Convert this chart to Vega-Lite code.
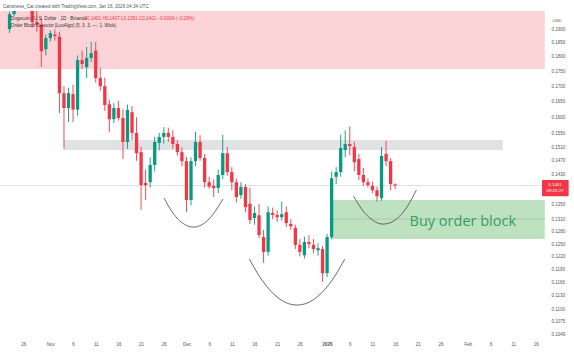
{
  "$schema": "https://vega.github.io/schema/vega-lite/v6.json",
  "width": 547,
  "height": 327,
  "autosize": {"type": "none"},
  "padding": {"left": 0, "top": 11, "right": 27, "bottom": 18},
  "background": "white",
  "config": {"view": {"stroke": null}, "font": "Liberation Sans", "axis": {"grid": false, "ticks": false, "domain": false, "title": null, "labelFontSize": 4.5, "labelColor": "#555555", "labelFont": "Liberation Sans", "labelFlush": false, "labelOverlap": false}},
  "title": {"text": "Cartonese_Cat created with TradingView.com, Jan 16, 2026 04:34 UTC", "anchor": "start", "frame": "group", "fontSize": 4.6, "fontWeight": "normal", "color": "#555555", "offset": 2, "dx": 3, "font": "Liberation Sans"},
  "datasets": {
    "candles": [
      {"d": "2025-10-23", "o": 0.1900, "h": 0.1966, "l": 0.1885, "c": 0.1956},
      {"d": "2025-10-24", "o": 0.1956, "h": 0.2010, "l": 0.1948, "c": 0.1990},
      {"d": "2025-10-25", "o": 0.1990, "h": 0.2012, "l": 0.1972, "c": 0.1998},
      {"d": "2025-10-26", "o": 0.1998, "h": 0.2065, "l": 0.1985, "c": 0.2045},
      {"d": "2025-10-27", "o": 0.2045, "h": 0.2080, "l": 0.1990, "c": 0.2010},
      {"d": "2025-10-28", "o": 0.2010, "h": 0.2040, "l": 0.1905, "c": 0.1926},
      {"d": "2025-10-29", "o": 0.1926, "h": 0.1968, "l": 0.1890, "c": 0.1915},
      {"d": "2025-10-30", "o": 0.1915, "h": 0.1940, "l": 0.1765, "c": 0.1820},
      {"d": "2025-10-31", "o": 0.1827, "h": 0.1880, "l": 0.1805, "c": 0.1867},
      {"d": "2025-11-01", "o": 0.1867, "h": 0.1895, "l": 0.1855, "c": 0.1885},
      {"d": "2025-11-02", "o": 0.1880, "h": 0.1898, "l": 0.1858, "c": 0.1874},
      {"d": "2025-11-03", "o": 0.1872, "h": 0.1890, "l": 0.1613, "c": 0.1677},
      {"d": "2025-11-04", "o": 0.1677, "h": 0.1700, "l": 0.1505, "c": 0.1629},
      {"d": "2025-11-05", "o": 0.1629, "h": 0.1695, "l": 0.1585, "c": 0.1677},
      {"d": "2025-11-06", "o": 0.1674, "h": 0.1705, "l": 0.1585, "c": 0.1624},
      {"d": "2025-11-07", "o": 0.1624, "h": 0.1805, "l": 0.1605, "c": 0.1789},
      {"d": "2025-11-08", "o": 0.1789, "h": 0.1822, "l": 0.1758, "c": 0.1775},
      {"d": "2025-11-09", "o": 0.1764, "h": 0.1835, "l": 0.1727, "c": 0.1796},
      {"d": "2025-11-10", "o": 0.1796, "h": 0.1853, "l": 0.1782, "c": 0.1813},
      {"d": "2025-11-11", "o": 0.1822, "h": 0.1853, "l": 0.1712, "c": 0.1727},
      {"d": "2025-11-12", "o": 0.1727, "h": 0.1762, "l": 0.1685, "c": 0.1700},
      {"d": "2025-11-13", "o": 0.1700, "h": 0.1728, "l": 0.1620, "c": 0.1639},
      {"d": "2025-11-14", "o": 0.1641, "h": 0.1655, "l": 0.1555, "c": 0.1594},
      {"d": "2025-11-15", "o": 0.1594, "h": 0.1645, "l": 0.1582, "c": 0.1629},
      {"d": "2025-11-16", "o": 0.1629, "h": 0.1652, "l": 0.1590, "c": 0.1598},
      {"d": "2025-11-17", "o": 0.1598, "h": 0.1625, "l": 0.1475, "c": 0.1525},
      {"d": "2025-11-18", "o": 0.1525, "h": 0.1640, "l": 0.1505, "c": 0.1623},
      {"d": "2025-11-19", "o": 0.1616, "h": 0.1635, "l": 0.1530, "c": 0.1552},
      {"d": "2025-11-20", "o": 0.1552, "h": 0.1600, "l": 0.1470, "c": 0.1492},
      {"d": "2025-11-21", "o": 0.1495, "h": 0.1510, "l": 0.1336, "c": 0.1402},
      {"d": "2025-11-22", "o": 0.1408, "h": 0.1445, "l": 0.1362, "c": 0.1402},
      {"d": "2025-11-23", "o": 0.1410, "h": 0.1480, "l": 0.1395, "c": 0.1458},
      {"d": "2025-11-24", "o": 0.1458, "h": 0.1540, "l": 0.1440, "c": 0.1525},
      {"d": "2025-11-25", "o": 0.1522, "h": 0.1552, "l": 0.1500, "c": 0.1540},
      {"d": "2025-11-26", "o": 0.1540, "h": 0.1570, "l": 0.1520, "c": 0.1552},
      {"d": "2025-11-27", "o": 0.1552, "h": 0.1568, "l": 0.1525, "c": 0.1540},
      {"d": "2025-11-28", "o": 0.1540, "h": 0.1560, "l": 0.1505, "c": 0.1519},
      {"d": "2025-11-29", "o": 0.1519, "h": 0.1530, "l": 0.1485, "c": 0.1495},
      {"d": "2025-11-30", "o": 0.1495, "h": 0.1508, "l": 0.1455, "c": 0.1469},
      {"d": "2025-12-01", "o": 0.1469, "h": 0.1482, "l": 0.1330, "c": 0.1362},
      {"d": "2025-12-02", "o": 0.1362, "h": 0.1480, "l": 0.1348, "c": 0.1469},
      {"d": "2025-12-03", "o": 0.1469, "h": 0.1555, "l": 0.1455, "c": 0.1525},
      {"d": "2025-12-04", "o": 0.1525, "h": 0.1545, "l": 0.1470, "c": 0.1478},
      {"d": "2025-12-05", "o": 0.1478, "h": 0.1490, "l": 0.1395, "c": 0.1410},
      {"d": "2025-12-06", "o": 0.1410, "h": 0.1425, "l": 0.1392, "c": 0.1398},
      {"d": "2025-12-07", "o": 0.1400, "h": 0.1418, "l": 0.1370, "c": 0.1394},
      {"d": "2025-12-08", "o": 0.1394, "h": 0.1445, "l": 0.1380, "c": 0.1430},
      {"d": "2025-12-09", "o": 0.1430, "h": 0.1546, "l": 0.1418, "c": 0.1492},
      {"d": "2025-12-10", "o": 0.1492, "h": 0.1510, "l": 0.1428, "c": 0.1438},
      {"d": "2025-12-11", "o": 0.1438, "h": 0.1452, "l": 0.1388, "c": 0.1410},
      {"d": "2025-12-12", "o": 0.1410, "h": 0.1420, "l": 0.1355, "c": 0.1370},
      {"d": "2025-12-13", "o": 0.1375, "h": 0.1410, "l": 0.1365, "c": 0.1397},
      {"d": "2025-12-14", "o": 0.1397, "h": 0.1405, "l": 0.1330, "c": 0.1343},
      {"d": "2025-12-15", "o": 0.1352, "h": 0.1395, "l": 0.1300, "c": 0.1310},
      {"d": "2025-12-16", "o": 0.1315, "h": 0.1345, "l": 0.1298, "c": 0.1328},
      {"d": "2025-12-17", "o": 0.1322, "h": 0.1352, "l": 0.1265, "c": 0.1272},
      {"d": "2025-12-18", "o": 0.1267, "h": 0.1285, "l": 0.1205, "c": 0.1231},
      {"d": "2025-12-19", "o": 0.1231, "h": 0.1345, "l": 0.1222, "c": 0.1330},
      {"d": "2025-12-20", "o": 0.1328, "h": 0.1342, "l": 0.1312, "c": 0.1323},
      {"d": "2025-12-21", "o": 0.1323, "h": 0.1335, "l": 0.1305, "c": 0.1317},
      {"d": "2025-12-22", "o": 0.1317, "h": 0.1358, "l": 0.1308, "c": 0.1325},
      {"d": "2025-12-23", "o": 0.1330, "h": 0.1345, "l": 0.1292, "c": 0.1302},
      {"d": "2025-12-24", "o": 0.1300, "h": 0.1312, "l": 0.1285, "c": 0.1294},
      {"d": "2025-12-25", "o": 0.1290, "h": 0.1298, "l": 0.1238, "c": 0.1248},
      {"d": "2025-12-26", "o": 0.1248, "h": 0.1262, "l": 0.1220, "c": 0.1231},
      {"d": "2025-12-27", "o": 0.1223, "h": 0.1268, "l": 0.1215, "c": 0.1255},
      {"d": "2025-12-28", "o": 0.1255, "h": 0.1272, "l": 0.1240, "c": 0.1250},
      {"d": "2025-12-29", "o": 0.1248, "h": 0.1262, "l": 0.1228, "c": 0.1238},
      {"d": "2025-12-30", "o": 0.1235, "h": 0.1252, "l": 0.1222, "c": 0.1240},
      {"d": "2025-12-31", "o": 0.1238, "h": 0.1245, "l": 0.1161, "c": 0.1181},
      {"d": "2026-01-01", "o": 0.1181, "h": 0.1275, "l": 0.1172, "c": 0.1267},
      {"d": "2026-01-02", "o": 0.1267, "h": 0.1440, "l": 0.1262, "c": 0.1421},
      {"d": "2026-01-03", "o": 0.1425, "h": 0.1452, "l": 0.1405, "c": 0.1438},
      {"d": "2026-01-04", "o": 0.1438, "h": 0.1546, "l": 0.1425, "c": 0.1507},
      {"d": "2026-01-05", "o": 0.1501, "h": 0.1560, "l": 0.1480, "c": 0.1519},
      {"d": "2026-01-06", "o": 0.1519, "h": 0.1572, "l": 0.1485, "c": 0.1513},
      {"d": "2026-01-07", "o": 0.1510, "h": 0.1525, "l": 0.1440, "c": 0.1466},
      {"d": "2026-01-08", "o": 0.1475, "h": 0.1490, "l": 0.1415, "c": 0.1430},
      {"d": "2026-01-09", "o": 0.1430, "h": 0.1450, "l": 0.1400, "c": 0.1410},
      {"d": "2026-01-10", "o": 0.1410, "h": 0.1420, "l": 0.1396, "c": 0.1402},
      {"d": "2026-01-11", "o": 0.1400, "h": 0.1412, "l": 0.1380, "c": 0.1388},
      {"d": "2026-01-12", "o": 0.1388, "h": 0.1398, "l": 0.1358, "c": 0.1372},
      {"d": "2026-01-13", "o": 0.1367, "h": 0.1510, "l": 0.1360, "c": 0.1484},
      {"d": "2026-01-14", "o": 0.1490, "h": 0.1528, "l": 0.1455, "c": 0.1469},
      {"d": "2026-01-15", "o": 0.1469, "h": 0.1478, "l": 0.1388, "c": 0.1405},
      {"d": "2026-01-16", "o": 0.1404, "h": 0.1407, "l": 0.1391, "c": 0.1401}
    ],
    "zones": [
      {"kind": "supply", "x1": "2025-10-20T00:00:00Z", "x2": "2026-02-18T00:00:00Z", "y1": 0.17576, "y2": 0.21},
      {"kind": "mid", "x1": "2025-11-04T00:00:00Z", "x2": "2026-02-08T17:30:00Z", "y1": 0.1501, "y2": 0.1531},
      {"kind": "demand", "x1": "2026-01-02T01:00:00Z", "x2": "2026-02-18T00:00:00Z", "y1": 0.12621, "y2": 0.13618}
    ],
    "arcs": [
      {"arc": 1, "t": "2025-11-26T01:15:00Z", "p": 0.13671},
      {"arc": 1, "t": "2025-11-27T18:49:00Z", "p": 0.13319},
      {"arc": 1, "t": "2025-11-29T12:22:00Z", "p": 0.13079},
      {"arc": 1, "t": "2025-12-01T05:56:00Z", "p": 0.1295},
      {"arc": 1, "t": "2025-12-02T13:05:00Z", "p": 0.1292},
      {"arc": 1, "t": "2025-12-03T20:15:00Z", "p": 0.1295},
      {"arc": 1, "t": "2025-12-05T13:49:00Z", "p": 0.13079},
      {"arc": 1, "t": "2025-12-07T07:22:00Z", "p": 0.13319},
      {"arc": 1, "t": "2025-12-09T00:56:00Z", "p": 0.13644},
      {"arc": 2, "t": "2025-12-14T21:12:00Z", "p": 0.12139},
      {"arc": 2, "t": "2025-12-16T14:46:00Z", "p": 0.11815},
      {"arc": 2, "t": "2025-12-18T08:19:00Z", "p": 0.11555},
      {"arc": 2, "t": "2025-12-20T01:52:00Z", "p": 0.11355},
      {"arc": 2, "t": "2025-12-21T19:26:00Z", "p": 0.11214},
      {"arc": 2, "t": "2025-12-23T12:59:00Z", "p": 0.11129},
      {"arc": 2, "t": "2025-12-25T09:08:00Z", "p": 0.11099},
      {"arc": 2, "t": "2025-12-27T05:18:00Z", "p": 0.11129},
      {"arc": 2, "t": "2025-12-28T22:51:00Z", "p": 0.11214},
      {"arc": 2, "t": "2025-12-30T16:25:00Z", "p": 0.11355},
      {"arc": 2, "t": "2026-01-01T09:59:00Z", "p": 0.11555},
      {"arc": 2, "t": "2026-01-03T03:32:00Z", "p": 0.11815},
      {"arc": 2, "t": "2026-01-04T21:06:00Z", "p": 0.12139},
      {"arc": 3, "t": "2026-01-06T19:51:00Z", "p": 0.13724},
      {"arc": 3, "t": "2026-01-08T13:24:00Z", "p": 0.13392},
      {"arc": 3, "t": "2026-01-10T06:58:00Z", "p": 0.13164},
      {"arc": 3, "t": "2026-01-12T00:32:00Z", "p": 0.13031},
      {"arc": 3, "t": "2026-01-13T12:53:00Z", "p": 0.12996},
      {"arc": 3, "t": "2026-01-15T06:26:00Z", "p": 0.13047},
      {"arc": 3, "t": "2026-01-17T00:00:00Z", "p": 0.132},
      {"arc": 3, "t": "2026-01-18T17:34:00Z", "p": 0.13459},
      {"arc": 3, "t": "2026-01-20T16:19:00Z", "p": 0.13885}
    ]
  },
  "layer": [
    {
      "data": {"name": "zones"},
      "mark": {"type": "rect", "clip": true},
      "encoding": {
        "x": {"field": "x1", "type": "temporal", "scale": {"type": "utc", "nice": false, "domain": [{"year": 2025, "month": 10, "date": 22, "utc": true}, {"year": 2026, "month": 2, "date": 17, "hours": 9, "utc": true}]},
          "axis": {"values": [1761436800000, 1761955200000, 1762387200000, 1762819200000, 1763251200000, 1763683200000, 1764115200000, 1764547200000, 1764979200000, 1765411200000, 1765843200000, 1766275200000, 1766707200000, 1767225600000, 1767657600000, 1768089600000, 1768521600000, 1768953600000, 1769385600000, 1769904000000, 1770336000000, 1770768000000, 1771200000000],
          "tickCount": 60,
          "labelExpr": "utcdate(datum.value) == 1 ? (utcmonth(datum.value) == 0 ? utcFormat(datum.value, '%Y') : utcFormat(datum.value, '%b')) : utcFormat(datum.value, '%-d')",
          "labelFontWeight": {"condition": {"test": "utcdate(datum.value) == 1 && utcmonth(datum.value) == 0", "value": "bold"}, "value": "normal"},
          "labelOverlap": false, "labelFlush": false, "labelBound": false,
          "labelPadding": 3}},
        "x2": {"field": "x2"},
        "y": {"field": "y1", "type": "quantitative", "scale": {"type": "log", "nice": false, "zero": false, "domain": [0.1041, 0.1968]},
          "axis": {"orient": "right", "values": [0.19, 0.185, 0.18, 0.175, 0.17, 0.165, 0.16, 0.155, 0.151, 0.147, 0.143, 0.135, 0.131, 0.128, 0.125, 0.122, 0.119, 0.116, 0.113, 0.11, 0.1075, 0.1049],
            "tickCount": 60,
            "format": ".4f", "labelPadding": 4, "labelAlign": "left", "labelBaseline": "middle", "labelOverlap": false, "labelFlush": false,
            "title": "USD", "titleAngle": 0, "titleAlign": "left", "titleBaseline": "middle", "titleX": 5, "titleY": 9, "titleFontSize": 4.4, "titleFontWeight": "normal", "titleColor": "#555555", "titleFont": "Liberation Sans"}},
        "y2": {"field": "y2"},
        "color": {"field": "kind", "type": "nominal", "scale": {"domain": ["supply", "mid", "demand"], "range": ["#f23645", "#9598a1", "#4caf50"]}, "legend": null},
        "opacity": {"field": "kind", "type": "nominal", "scale": {"domain": ["supply", "mid", "demand"], "range": [0.21, 0.36, 0.27]}, "legend": null}
      }
    },
    {
      "data": {"values": [{"x1": "2025-10-20T00:00:00Z", "x2": "2026-02-18T00:00:00Z", "y": 0.1401}]},
      "mark": {"type": "rule", "clip": true, "strokeWidth": 0.7, "color": "#d2d2d2"},
      "encoding": {
        "x": {"field": "x1", "type": "temporal"},
        "x2": {"field": "x2"},
        "y": {"field": "y", "type": "quantitative"}
      }
    },
    {
      "data": {"values": [{"x1": "2026-01-02T01:00:00Z", "x2": "2026-02-18T00:00:00Z", "y": 0.13123}]},
      "mark": {"type": "rule", "clip": true, "strokeWidth": 0.7, "color": "#a3bea3"},
      "encoding": {
        "x": {"field": "x1", "type": "temporal"},
        "x2": {"field": "x2"},
        "y": {"field": "y", "type": "quantitative"}
      }
    },
    {
      "data": {"name": "arcs"},
      "mark": {"type": "line", "clip": true, "interpolate": "natural", "strokeWidth": 0.8, "color": "#444444"},
      "encoding": {
        "x": {"field": "t", "type": "temporal"},
        "y": {"field": "p", "type": "quantitative"},
        "detail": {"field": "arc", "type": "nominal"}
      }
    },
    {
      "data": {"name": "candles"},
      "mark": {"type": "rule", "clip": true, "strokeWidth": 0.9},
      "encoding": {
        "x": {"field": "d", "type": "temporal"},
        "y": {"field": "l", "type": "quantitative"},
        "y2": {"field": "h"},
        "color": {"condition": {"test": "datum.c >= datum.o", "value": "#089981"}, "value": "#f23645"}
      }
    },
    {
      "data": {"name": "candles"},
      "mark": {"type": "bar", "clip": true, "width": 3.3},
      "encoding": {
        "x": {"field": "d", "type": "temporal"},
        "y": {"field": "o", "type": "quantitative"},
        "y2": {"field": "c"},
        "color": {"condition": {"test": "datum.c >= datum.o", "value": "#089981"}, "value": "#f23645"}
      }
    },
    {
      "data": {"values": [{"t": "2026-01-30T22:00:00Z", "p": 0.13046, "text": "Buy order block"}]},
      "mark": {"type": "text", "fontSize": 14.5, "font": "Open Sans", "color": "#34a063", "align": "center", "baseline": "middle"},
      "encoding": {
        "x": {"field": "t", "type": "temporal"},
        "y": {"field": "p", "type": "quantitative"},
        "text": {"field": "text"}
      }
    },
    {
      "data": {"values": [
        {"t": "2025-10-23T07:00:00Z", "p": 0.19374, "text": "Dogecoin / U.S. Dollar · 1D · Binance"},
        {"t": "2025-10-23T07:00:00Z", "p": 0.1913, "text": "Order Block Detector [LuxAlgo] (5, 3, 3, —, 1, Wick)"}
      ]},
      "mark": {"type": "text", "fontSize": 4.6, "font": "Liberation Sans", "color": "#333333", "align": "left", "baseline": "middle"},
      "encoding": {
        "x": {"field": "t", "type": "temporal"},
        "y": {"field": "p", "type": "quantitative"},
        "text": {"field": "text"}
      }
    },
    {
      "data": {"values": [
        {"t": "2025-11-08T07:15:00Z", "p": 0.19374, "text": "O0.1401  H0.1407  L0.1391  C0.1401  −0.0004 (−0.28%)"}
      ]},
      "mark": {"type": "text", "fontSize": 4.6, "font": "Liberation Sans", "color": "#f23645", "align": "left", "baseline": "middle"},
      "encoding": {
        "x": {"field": "t", "type": "temporal"},
        "y": {"field": "p", "type": "quantitative"},
        "text": {"field": "text"}
      }
    },
    {
      "data": {"values": [{"x1": "2026-02-17T09:00:00Z", "x2": "2026-02-23T06:00:00Z", "y1": 0.1372, "y2": 0.1416}]},
      "mark": {"type": "rect", "clip": false, "color": "#f23645", "cornerRadius": 1},
      "encoding": {
        "x": {"field": "x1", "type": "temporal"},
        "x2": {"field": "x2"},
        "y": {"field": "y1", "type": "quantitative"},
        "y2": {"field": "y2"}
      }
    },
    {
      "data": {"values": [
        {"t": "2026-02-20T06:00:00Z", "p": 0.14035, "text": "0.1401"},
        {"t": "2026-02-20T06:00:00Z", "p": 0.13858, "text": "09:25:27"}
      ]},
      "mark": {"type": "text", "fontSize": 4.4, "font": "Liberation Sans", "color": "white", "align": "center", "baseline": "middle", "clip": false},
      "encoding": {
        "x": {"field": "t", "type": "temporal"},
        "y": {"field": "p", "type": "quantitative"},
        "text": {"field": "text"}
      }
    }
  ]
}
